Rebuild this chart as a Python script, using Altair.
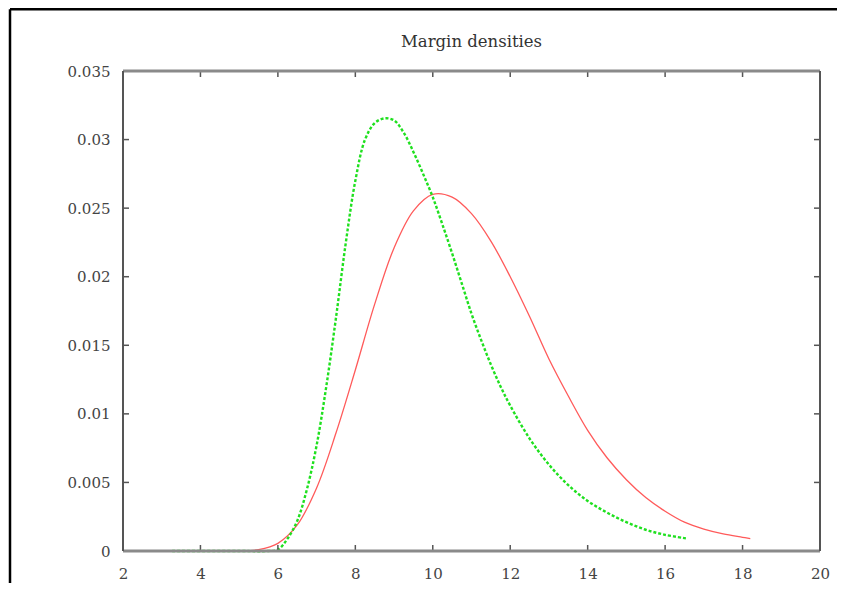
import altair as alt
import pandas as pd

# ---- data ----
red_x = [3.27, 4.5, 5.0, 5.5, 6.0, 6.5, 7.0, 7.5, 8.0, 8.5, 9.0, 9.5, 10.0, 10.5,
         11.0, 11.5, 12.0, 12.5, 13.0, 13.5, 14.0, 14.5, 15.0, 15.5, 16.0, 16.5, 17.0, 17.5,
         18.0, 18.2]
red_y = [0.0, 0.0, 0.0, 0.0001, 0.00056, 0.0019, 0.0046, 0.0086, 0.0132, 0.0180, 0.0221,
         0.0248, 0.0260, 0.0258, 0.0246, 0.0226, 0.0200, 0.0171, 0.0140, 0.0113,
         0.0088, 0.0068, 0.0052, 0.0039, 0.0029, 0.0021, 0.0016, 0.00125, 0.0010, 0.0009]

green_x = [3.27, 5.0, 5.75, 6.0, 6.25, 6.5, 6.75, 7.0, 7.25, 7.5, 7.75, 8.0, 8.25, 8.5, 8.75,
           9.0, 9.25, 9.5, 9.75, 10.0, 10.25, 10.5, 10.75, 11.0, 11.25, 11.5, 11.75, 12.0,
           12.5, 13.0, 13.5, 14.0, 14.5, 15.0, 15.5, 16.0, 16.54]
green_y = [0.0, 0.0, 0.0, 0.0001, 0.0009, 0.0022, 0.0045, 0.0077, 0.0120, 0.0170, 0.0224,
           0.0270, 0.0300, 0.0312, 0.03155, 0.0314, 0.0305, 0.0291, 0.0275, 0.0258, 0.0238,
           0.0217, 0.0195, 0.0173, 0.01538, 0.0136, 0.0120, 0.0106, 0.0082, 0.0063, 0.0048,
           0.00365, 0.0028, 0.0021, 0.00155, 0.00118, 0.00092]

x_ticks = [2, 4, 6, 8, 10, 12, 14, 16, 18, 20]
y_ticks = [0, 0.005, 0.01, 0.015, 0.02, 0.025, 0.03, 0.035]
title_text = "Margin densities"

W, H = 697, 480
PL, PT, PR, PB = 115, 63, 17, 32

FONT = "DejaVu Serif"

xs = alt.Scale(domain=[2, 20], nice=False, zero=False)
ys = alt.Scale(domain=[0, 0.035], nice=False, zero=False)
x_axis = alt.Axis(values=x_ticks, format="d", labelPadding=15, labelFlush=False, title=None,
                  domain=False, ticks=False, grid=False)
y_axis = alt.Axis(values=y_ticks, format="~g", labelPadding=13, labelFlush=False, title=None,
                  domain=False, ticks=False, grid=False)

red_df = pd.DataFrame({"x": red_x, "y": red_y})
green_df = pd.DataFrame({"x": green_x, "y": green_y})
one = pd.DataFrame({"a": [0]})
xt_df = pd.DataFrame({"x": x_ticks})
yt_df = pd.DataFrame({"y": y_ticks})

X = alt.X("x:Q", scale=xs, axis=x_axis)
Y = alt.Y("y:Q", scale=ys, axis=y_axis)

red = alt.Chart(red_df).mark_line(color="#ff5a5a", strokeWidth=1.3,
                                  interpolate="catmull-rom").encode(x=X, y=Y)
green = alt.Chart(green_df).mark_line(color="#1fe01f", strokeWidth=2.4, strokeDash=[3, 2],
                                      interpolate="catmull-rom").encode(x=X, y=Y)

def rule(color, width, **enc):
    return alt.Chart(one).mark_rule(color=color, strokeWidth=width).encode(
        **{k: alt.value(v) for k, v in enc.items()})

frame = [
    rule("#8a8a8a", 3, x=0, x2=W, y=H),
    rule("#8a8a8a", 3, x=0, x2=W, y=0),
    rule("#555555", 2, x=0, y=0, y2=H),
    rule("#555555", 2, x=W, y=0, y2=H),
]

tick_col = "#555555"
xt_bottom = alt.Chart(xt_df).mark_rule(color=tick_col, strokeWidth=1.5).encode(
    x=X, y=alt.value(H), y2=alt.value(H - 6))
xt_top = alt.Chart(xt_df).mark_rule(color=tick_col, strokeWidth=1.5).encode(
    x=X, y=alt.value(0), y2=alt.value(6))
yt_left = alt.Chart(yt_df).mark_rule(color=tick_col, strokeWidth=1.5).encode(
    y=Y, x=alt.value(0), x2=alt.value(6))
yt_right = alt.Chart(yt_df).mark_rule(color=tick_col, strokeWidth=1.5).encode(
    y=Y, x=alt.value(W - 6), x2=alt.value(W))

outer = [
    rule("#000000", 2.5, x=-PL + 2, x2=W + PR, y=-PT + 1.25),
    rule("#000000", 2.5, x=-PL + 2, y=-PT + 1.25, y2=H + PB),
]

title = alt.Chart(one).mark_text(font=FONT, fontSize=16.5, color="#333333",
                                 align="center", baseline="middle").encode(
    x=alt.value(W / 2), y=alt.value(-29), text=alt.value(title_text))

chart = alt.layer(red, green, xt_bottom, xt_top, yt_left, yt_right, *frame, title, *outer).properties(
    width=W, height=H,
    padding={"left": PL, "top": PT, "right": PR, "bottom": PB},
    autosize=alt.AutoSizeParams(type="none"),
).configure_view(stroke=None).configure_axis(
    labelFont=FONT, labelFontSize=15, labelColor="#444444",
)

chart.save("out.html", embed_options={"renderer": "svg", "actions": False})
